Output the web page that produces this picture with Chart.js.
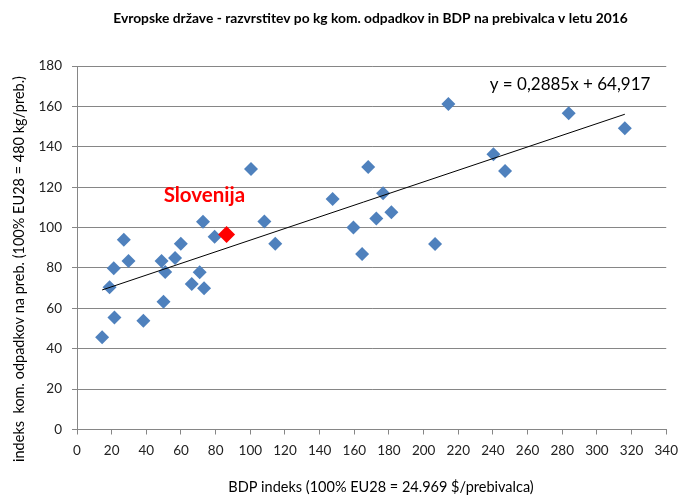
<!DOCTYPE html>
<html><head><meta charset="utf-8">
<script src="https://cdn.jsdelivr.net/npm/chart.js@4/dist/chart.umd.min.js"></script>
<style>html,body{margin:0;padding:0;background:#fff}</style>
</head><body>
<canvas id="c" width="686" height="498"></canvas>
<script>
// Data
const chartTitle = 'Evropske države - razvrstitev po kg kom. odpadkov in BDP na prebivalca v letu 2016';
const xAxisTitle = 'BDP indeks (100% EU28 = 24.969 $/prebivalca)';
const yAxisTitle = 'indeks  kom. odpadkov na preb. (100% EU28 = 480 kg/preb.)';
const gdpIndex = [14.5, 18.8, 21.2, 21.6, 27, 29.7, 38.3, 48.8, 49.9, 50.9, 56.6, 59.9, 66.2, 70.8, 72.7, 73.3, 79.4,
  100.4, 108.1, 114.4, 147.5, 159.5, 164.5, 168, 172.7, 176.6, 181.4, 206.6, 214.3, 240.3, 247, 283.7, 316.1];
const wasteIndex = [45.7, 70.4, 79.8, 55.4, 94, 83.5, 53.9, 83.5, 63.3, 78, 84.9, 92, 72.1, 77.9, 102.9, 69.9, 95.5,
  129, 103, 92, 114.2, 100, 86.9, 130, 104.5, 117, 107.6, 91.9, 161.2, 136.3, 128, 156.6, 149.2];
const sloveniaName = 'Slovenija';
const sloveniaGdp = [86.3];
const sloveniaWaste = [96.6];
const trendSlope = 0.2885;
const trendIntercept = 64.917;
const trendLabel = 'y = 0,2885x + 64,917';
const xTicks = {min: 0, max: 340, step: 20};
const yTicks = {min: 0, max: 180, step: 20};

const FONT = 'Lato, "Liberation Sans", sans-serif';
const points = gdpIndex.map((x, i) => ({x, y: wasteIndex[i]}));
const slo = sloveniaGdp.map((x, i) => ({x, y: sloveniaWaste[i]}));
const allX = gdpIndex.concat(sloveniaGdp);
const xMinData = Math.min(...allX), xMaxData = Math.max(...allX);
const trend = [xMinData, xMaxData].map(x => ({x, y: trendSlope * x + trendIntercept}));

const textPlugin = {
  id: 'texts',
  afterDraw(chart) {
    const ctx = chart.ctx;
    const xs = chart.scales.x, ys = chart.scales.y;
    ctx.save();
    ctx.textAlign = 'center';
    ctx.textBaseline = 'middle';
    ctx.fillStyle = '#000';
    ctx.font = 'bold 13.8px ' + FONT;
    ctx.fillText(chartTitle, 370.5, 19);
    // axis titles
    ctx.font = '14.5px ' + FONT;
    ctx.fillText(xAxisTitle, 381, 487);
    ctx.save();
    ctx.translate(19, 269);
    ctx.rotate(-Math.PI / 2);
    ctx.fillText(yAxisTitle, 0, 0);
    ctx.restore();
    // annotations
    ctx.font = '17px ' + FONT;
    ctx.fillText(trendLabel, xs.getPixelForValue(284.5), ys.getPixelForValue(170.6));
    ctx.font = 'bold 20.5px ' + FONT;
    ctx.fillStyle = '#ff0000';
    ctx.fillText(sloveniaName, xs.getPixelForValue(73.5), ys.getPixelForValue(115.9));
    ctx.restore();
  }
};

new Chart(document.getElementById('c'), {
  type: 'scatter',
  data: {
    datasets: [
      {label: 'Države', data: points, pointStyle: 'rectRot', pointRadius: 7, pointHoverRadius: 7,
       backgroundColor: '#4F81BD', borderColor: '#4F81BD', borderWidth: 0, order: 3},
      {label: 'Trend', type: 'line', data: trend, borderColor: '#000', borderWidth: 1, pointRadius: 0,
       fill: false, order: 2},
      {label: sloveniaName, data: slo, pointStyle: 'rectRot', pointRadius: 8.5, pointHoverRadius: 8.5,
       backgroundColor: '#ff0000', borderColor: '#ff0000', borderWidth: 0, order: 1}
    ]
  },
  options: {
    responsive: false,
    animation: false,
    events: [],
    layout: {padding: {top: 66, right: 16, left: 0, bottom: 0}},
    plugins: {legend: {display: false}, tooltip: {enabled: false}, title: {display: false}},
    scales: {
      x: {
        type: 'linear', min: xTicks.min, max: xTicks.max,
        afterFit(s) { s.height = 68.5; },
        ticks: {stepSize: xTicks.step, color: '#222', font: {family: FONT, size: 13.5}, padding: 8, maxRotation: 0},
        grid: {drawOnChartArea: false, drawTicks: true, tickLength: 5, color: '#868686'},
        border: {display: true, color: '#868686', width: 1},
        title: {display: false}
      },
      y: {
        type: 'linear', min: yTicks.min, max: yTicks.max,
        afterFit(s) { s.width = 77; },
        ticks: {stepSize: yTicks.step, color: '#222', font: {family: FONT, size: 13.5}, padding: 10},
        grid: {drawOnChartArea: true, drawTicks: true, tickLength: 5, color: '#868686'},
        border: {display: true, color: '#868686', width: 1},
        title: {display: false}
      }
    }
  },
  plugins: [textPlugin]
});
</script>
</body></html>
